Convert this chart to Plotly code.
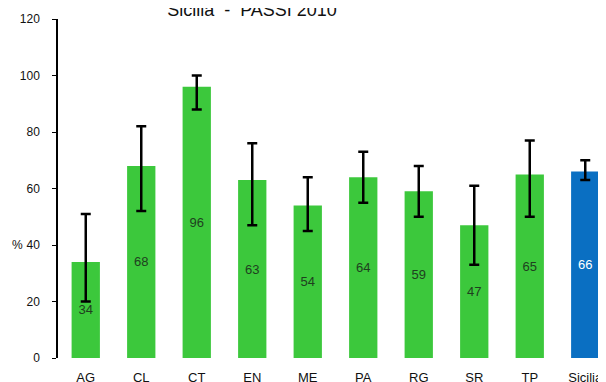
import plotly.graph_objects as go

# ASL areas + regional total
categories = ["AG", "CL", "CT", "EN", "ME", "PA", "RG", "SR", "TP", "Sicilia"]
values = [34, 68, 96, 63, 54, 64, 59, 47, 65, 66]
ci_low = [20, 52, 88, 47, 45, 55, 50, 33, 50, 63]
ci_high = [51, 82, 100, 76, 64, 73, 68, 61, 77, 70]
y_ticks = [0, 20, 40, 60, 80, 100, 120]

bar_colors = ["#3CC83C"] * 9 + ["#0A6FC2"]
text_colors = ["#1F3F1F"] * 9 + ["#FFFFFF"]

fig = go.Figure(go.Bar(
    x=categories,
    y=values,
    marker=dict(color=bar_colors, line=dict(width=0)),
    text=[str(v) for v in values],
    textposition="inside",
    insidetextanchor="middle",
    textfont=dict(family="Arial, Liberation Sans", size=13, color=text_colors),
    error_y=dict(
        type="data",
        symmetric=False,
        array=[h - v for h, v in zip(ci_high, values)],
        arrayminus=[v - l for v, l in zip(values, ci_low)],
        color="black",
        thickness=2.5,
        width=5,
    ),
))

# page puts the plot 8px in from the corner, so margins are set 8px smaller
fig.update_layout(
    width=606,
    height=382,
    margin=dict(l=50, r=1, t=11, b=32),
    paper_bgcolor="white",
    plot_bgcolor="white",
    bargap=0.49,
    showlegend=False,
    font=dict(family="Arial, Liberation Sans", color="#222"),
    title=dict(text="Sicilia  -  PASSI 2010", x=244 / 606, xanchor="center",
               xref="container", y=1 - 8 / 382, yref="container", yanchor="bottom",
               font=dict(size=18, color="#111")),
    annotations=[
        dict(text="%", x=-0.086, xref="paper", y=40, yref="y", showarrow=False,
             font=dict(size=12, color="#111"), xanchor="left"),
    ],
)

fig.update_xaxes(
    range=[-0.5, 9.5],
    showline=False,
    showgrid=False,
    ticks="",
    ticklabelstandoff=10,
    tickfont=dict(size=13, color="#111"),
)
fig.update_yaxes(
    range=[0, 120],
    tickvals=y_ticks,
    showgrid=False,
    zeroline=False,
    showline=True,
    linecolor="black",
    linewidth=1.5,
    ticks="outside",
    ticklen=4,
    tickcolor="black",
    ticklabelstandoff=10,
    tickfont=dict(size=12, color="#111"),
)

fig.write_html("out.html")
